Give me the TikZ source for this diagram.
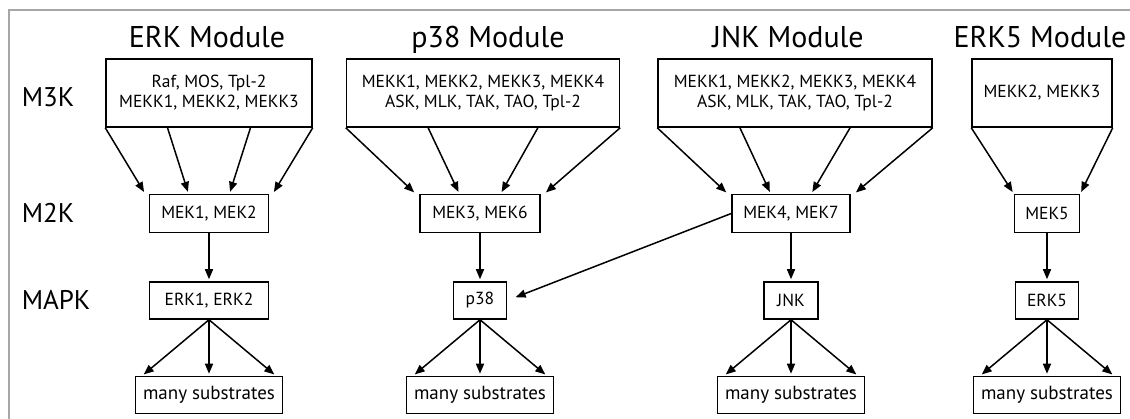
\documentclass[tikz,border=0pt]{standalone}
\usepackage{fontspec}
\setmainfont{PT Sans}
\usetikzlibrary{positioning, calc, arrows.meta}

\begin{document}
\begin{tikzpicture}[
        x=1pt, y=-1pt,
        every node/.style={rectangle, draw, line width=1.5pt, inner sep=0pt, align=center,
            font=\fontsize{17.5}{20}\selectfont},
        lbl/.style={draw=none, anchor=west, font=\fontsize{27}{32}\selectfont},
        ttl/.style={draw=none, anchor=base, font=\fontsize{30}{36}\selectfont},
        arr/.style={-{Triangle[length=10pt, width=8pt]}, line width=1.5pt, shorten >=2pt},
        sub/.style={minimum width=147pt, minimum height=37pt, font=\fontsize{19}{22}\selectfont},
        node distance=48pt
    ]
        \useasboundingbox (0,0) rectangle (1130,419);

        % Rahmen
        \draw[black!35, line width=2pt] (9,419) -- (9,10) -- (1130,10);

        % Titel
        \node[ttl] (t-erk) at (207,48) {ERK Module};
        \node[ttl] (t-p38) at (488,48) {p38 Module};
        \node[ttl] (t-jnk) at (788,48) {JNK Module};
        \node[ttl] (t-erk5) at (1040,48) {ERK5 Module};

        % Ebenen
        \node[lbl] (l-m3) at (21,97) {M3K};
        \node[lbl] (l-m2) at (21,213) {M2K};
        \node[lbl] (l-mapk) at (21,300) {MAPK};

        % M3K
        \node (m3-erk) [minimum width=206pt, minimum height=68pt] at (209,93) {Raf, MOS, Tpl-2\\MEKK1, MEKK2, MEKK3};
        \node (m3-p38) [minimum width=273pt, minimum height=68pt] at (483,93) {MEKK1, MEKK2, MEKK3, MEKK4\\ASK, MLK, TAK, TAO, Tpl-2};
        \node (m3-jnk) [minimum width=274pt, minimum height=68pt] at (795,93) {MEKK1, MEKK2, MEKK3, MEKK4\\ASK, MLK, TAK, TAO, Tpl-2};
        \node (m3-erk5) [minimum width=140pt, minimum height=68pt] at (1042,93) {MEKK2, MEKK3};

        % M2K
        \node (m2-erk) [below=66pt of m3-erk, minimum width=119pt, minimum height=38pt] {MEK1, MEK2};
        \node (m2-p38) [below=66pt of m3-p38, xshift=-3pt, minimum width=120pt, minimum height=38pt] {MEK3, MEK6};
        \node (m2-jnk) [below=66pt of m3-jnk, xshift=-4pt, minimum width=118pt, minimum height=38pt] {MEK4, MEK7};
        \node (m2-erk5) [below=66pt of m3-erk5, xshift=5pt, minimum width=65pt, minimum height=38pt] {MEK5};

        % MAPK
        \node (mapk-erk) [below=48pt of m2-erk, minimum width=119pt, minimum height=37pt] {ERK1, ERK2};
        \node (mapk-p38) [below=48pt of m2-p38, minimum width=53pt, minimum height=37pt] {p38};
        \node (mapk-jnk) [below=48pt of m2-jnk, minimum width=54pt, minimum height=37pt] {JNK};
        \node (mapk-erk5) [below=48pt of m2-erk5, minimum width=63pt, minimum height=37pt] {ERK5};

        % Substrate
        \node (sub-erk) [sub, below=56pt of mapk-erk] {many substrates};
        \node (sub-p38) [sub, below=56pt of mapk-p38] {many substrates};
        \node (sub-jnk) [sub, below=56pt of mapk-jnk] {many substrates};
        \node (sub-erk5) [sub, below=56pt of mapk-erk5] {many substrates};

        % Pfeile M3K -> M2K
        \foreach \m in {erk, p38, jnk}
            \foreach \a/\b in {0/-0.03, 0.3/0.33, 0.7/0.67, 1/1.03}
                \draw[arr] ($(m3-\m.south west)!\a!(m3-\m.south east)$) -- ($(m2-\m.north west)!\b!(m2-\m.north east)$);
        \draw[arr] (m3-erk5.south west) -- (m2-erk5.north west);
        \draw[arr] (m3-erk5.south east) -- (m2-erk5.north east);

        % Pfeile M2K -> MAPK -> Substrate
        \foreach \m in {erk, p38, jnk, erk5} {
            \draw[arr] (m2-\m) -- (mapk-\m);
            \foreach \b in {0.05, 0.5, 0.95}
                \draw[arr] (mapk-\m.south) -- ($(sub-\m.north west)!\b!(sub-\m.north east)$);
        }

        % Querverbindung
        \draw[arr, shorten >=9pt] (m2-jnk.west) -- (mapk-p38.east);
    \end{tikzpicture}
\end{document}
